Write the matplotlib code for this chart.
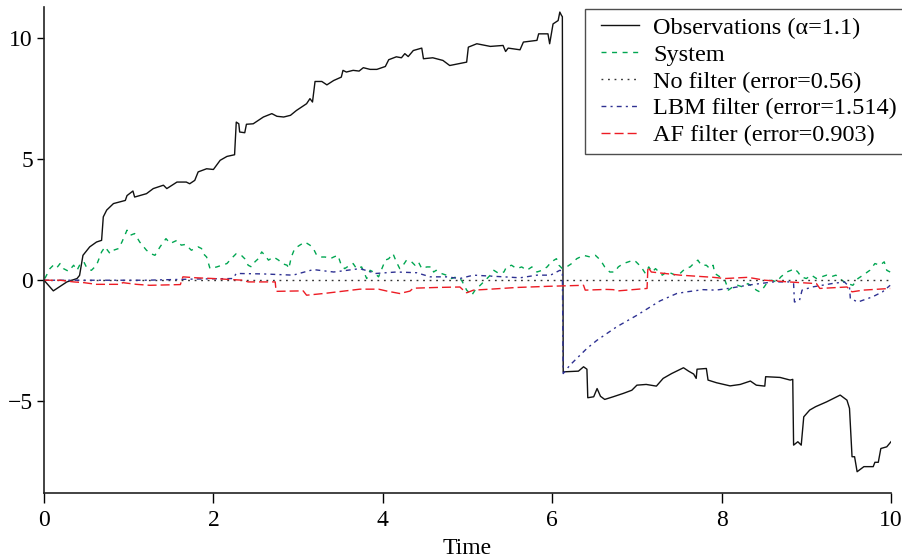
import numpy as np
import matplotlib
matplotlib.use("Agg")
import matplotlib.pyplot as plt
from matplotlib.lines import Line2D
from matplotlib.legend_handler import HandlerLine2D

# ---- data ----
obs_t = [0.00, 0.11, 0.27, 0.39, 0.42, 0.46, 0.54, 0.62, 0.68, 0.70, 0.74, 0.82,
         0.96, 0.98, 1.05, 1.07, 1.21, 1.29, 1.41, 1.45, 1.57, 1.68, 1.72, 1.78,
         1.82, 1.92, 2.00, 2.08, 2.16, 2.25, 2.27, 2.30, 2.31, 2.37, 2.39, 2.47,
         2.59, 2.69, 2.75, 2.83, 2.91, 2.98, 3.10, 3.14, 3.17, 3.20, 3.28, 3.34,
         3.42, 3.51, 3.53, 3.57, 3.65, 3.72, 3.77, 3.85, 3.93, 4.03, 4.07, 4.16,
         4.22, 4.26, 4.30, 4.36, 4.46, 4.48, 4.59, 4.71, 4.79, 4.99, 5.01, 5.11,
         5.27, 5.42, 5.45, 5.48, 5.62, 5.66, 5.82, 5.84, 5.95, 5.97, 6.01, 6.07,
         6.09, 6.11, 6.12, 6.13, 6.31, 6.37, 6.41, 6.42, 6.49, 6.53, 6.57, 6.62,
         6.72, 6.84, 6.94, 7.00, 7.11, 7.23, 7.31, 7.41, 7.55, 7.61, 7.67, 7.70,
         7.71, 7.82, 7.84, 7.94, 8.10, 8.22, 8.34, 8.41, 8.51, 8.52, 8.69, 8.81,
         8.84, 8.85, 8.90, 8.94, 8.97, 9.04, 9.11, 9.24, 9.32, 9.40, 9.48, 9.51,
         9.54, 9.57, 9.60, 9.68, 9.79, 9.81, 9.85, 9.88, 9.95, 10.00]
obs_y = [0.00, -0.44, -0.07, 0.07, 0.20, 1.03, 1.38, 1.58, 1.65, 2.62, 2.90, 3.17,
         3.30, 3.50, 3.69, 3.44, 3.58, 3.79, 3.93, 3.79, 4.06, 4.06, 3.99, 4.13,
         4.48, 4.61, 4.58, 4.96, 5.12, 5.19, 6.54, 6.47, 6.13, 6.10, 6.45, 6.47,
         6.75, 6.89, 6.78, 6.75, 6.82, 7.02, 7.30, 7.51, 7.37, 8.22, 8.22, 8.08,
         8.26, 8.40, 8.68, 8.61, 8.68, 8.65, 8.79, 8.72, 8.72, 8.84, 9.12, 9.24,
         9.20, 9.37, 9.25, 9.50, 9.60, 9.16, 9.20, 9.09, 8.88, 9.02, 9.64, 9.78,
         9.67, 9.71, 9.46, 9.60, 9.53, 9.85, 9.92, 10.19, 10.19, 9.78, 10.60, 10.74,
         11.09, 10.95, 10.90, -3.79, -3.76, -3.58, -3.68, -4.86, -4.82, -4.48, -4.80, -4.93,
         -4.82, -4.68, -4.55, -4.34, -4.31, -4.38, -4.06, -3.86, -3.62, -3.76, -3.88, -4.06,
         -3.68, -3.65, -4.13, -4.24, -4.37, -4.31, -4.17, -4.34, -4.38, -3.99, -4.02, -4.13,
         -4.10, -6.82, -6.68, -6.82, -5.65, -5.37, -5.23, -5.03, -4.89, -4.75, -4.96, -5.30,
         -7.30, -7.30, -7.92, -7.71, -7.71, -7.53, -7.53, -6.96, -6.89, -6.68]

sys_t = [0.01, 0.07, 0.11, 0.15, 0.19, 0.23, 0.29, 0.35, 0.39, 0.43, 0.47, 0.51,
         0.56, 0.62, 0.68, 0.72, 0.78, 0.82, 0.88, 0.92, 0.98, 1.02, 1.07, 1.13,
         1.21, 1.26, 1.31, 1.37, 1.44, 1.49, 1.57, 1.62, 1.67, 1.74, 1.78, 1.82,
         1.86, 1.88, 1.92, 1.96, 2.04, 2.10, 2.16, 2.21, 2.27, 2.33, 2.37, 2.41,
         2.45, 2.49, 2.53, 2.57, 2.61, 2.65, 2.71, 2.77, 2.81, 2.87, 2.89, 2.92,
         2.96, 3.02, 3.08, 3.14, 3.18, 3.22, 3.28, 3.32, 3.38, 3.42, 3.47, 3.51,
         3.55, 3.61, 3.65, 3.69, 3.75, 3.81, 3.85, 3.89, 3.95, 3.99, 4.03, 4.07,
         4.12, 4.16, 4.20, 4.24, 4.28, 4.34, 4.38, 4.42, 4.46, 4.52, 4.58, 4.60,
         4.63, 4.69, 4.75, 4.81, 4.87, 4.93, 4.95, 4.99, 5.05, 5.09, 5.15, 5.21,
         5.27, 5.31, 5.37, 5.43, 5.46, 5.52, 5.58, 5.64, 5.70, 5.76, 5.82, 5.88,
         5.94, 5.99, 6.05, 6.08, 6.12, 6.17, 6.23, 6.29, 6.37, 6.45, 6.51, 6.57,
         6.62, 6.68, 6.74, 6.78, 6.84, 6.90, 6.96, 6.99, 7.05, 7.10, 7.14, 7.18,
         7.22, 7.26, 7.30, 7.35, 7.41, 7.45, 7.51, 7.57, 7.63, 7.69, 7.72, 7.76,
         7.82, 7.86, 7.90, 7.92, 7.98, 8.04, 8.08, 8.13, 8.19, 8.25, 8.31, 8.37,
         8.41, 8.45, 8.49, 8.53, 8.59, 8.65, 8.70, 8.77, 8.82, 8.86, 8.90, 8.94,
         9.00, 9.06, 9.12, 9.18, 9.24, 9.29, 9.35, 9.39, 9.45, 9.49, 9.55, 9.61,
         9.67, 9.75, 9.81, 9.87, 9.92, 9.95, 9.99]
sys_y = [0.07, 0.48, 0.62, 0.51, 0.69, 0.48, 0.37, 0.62, 0.41, 0.69, 0.76, 0.48,
         0.41, 0.62, 1.17, 1.38, 1.10, 1.24, 1.31, 1.58, 2.07, 1.86, 1.93, 1.58,
         1.24, 1.10, 1.03, 1.38, 1.72, 1.52, 1.65, 1.45, 1.48, 1.24, 1.31, 1.38,
         1.31, 1.10, 0.96, 0.48, 0.55, 0.62, 0.69, 0.89, 1.10, 1.03, 0.89, 0.62,
         0.55, 0.76, 0.89, 1.17, 1.03, 0.83, 0.96, 0.83, 0.69, 0.62, 0.48, 0.96,
         1.31, 1.45, 1.58, 1.45, 1.31, 1.03, 0.96, 0.96, 0.89, 0.96, 1.03, 0.62,
         0.48, 0.62, 0.69, 0.48, 0.55, 0.07, 0.41, 0.34, 0.14, 0.48, 0.83, 0.89,
         1.10, 0.76, 0.48, 0.62, 0.83, 0.76, 0.62, 0.76, 0.48, 0.55, 0.55, 0.34,
         0.41, 0.28, 0.21, 0.07, 0.14, 0.00, -0.14, -0.41, -0.62, -0.41, -0.21, 0.00,
         0.21, 0.41, 0.28, 0.34, 0.55, 0.62, 0.48, 0.55, 0.41, 0.55, 0.34, 0.41,
         0.55, 0.76, 0.89, 0.62, 0.48, 0.55, 0.69, 0.89, 1.03, 0.96, 1.03, 0.83,
         0.55, 0.34, 0.34, 0.55, 0.69, 0.76, 0.83, 0.76, 0.55, 0.28, 0.55, 0.34,
         0.48, 0.34, 0.21, 0.34, 0.28, 0.21, 0.28, 0.48, 0.55, 0.76, 0.83, 0.62,
         0.62, 0.48, 0.62, 0.28, 0.14, 0.00, -0.41, -0.28, -0.21, -0.28, -0.14, -0.28,
         -0.41, -0.48, -0.34, -0.14, 0.00, -0.07, 0.14, 0.34, 0.41, 0.48, 0.34, 0.14,
         0.07, 0.21, 0.07, 0.14, 0.21, 0.14, 0.21, 0.07, -0.07, -0.14, -0.21, 0.07,
         0.21, 0.41, 0.69, 0.62, 0.76, 0.41, 0.34]

nofilter_t = [0.0, 10.0]
nofilter_y = [0.0, 0.0]

lbm_t = [0.00, 0.60, 1.20, 1.80, 2.23, 2.27, 2.59, 2.94, 3.18, 3.42, 3.49, 3.73,
         3.92, 4.16, 4.40, 4.56, 4.75, 4.91, 5.07, 5.27, 5.43, 5.62, 5.82, 5.98,
         6.09, 6.12, 6.13, 6.21, 6.41, 6.53, 6.76, 7.00, 7.27, 7.47, 7.59, 7.78,
         7.93, 8.08, 8.30, 8.45, 8.61, 8.80, 8.85, 8.86, 8.92, 8.95, 9.07, 9.30,
         9.45, 9.51, 9.52, 9.61, 9.78, 9.90, 9.99]
lbm_y = [0.00, 0.00, 0.00, 0.05, 0.07, 0.28, 0.26, 0.21, 0.44, 0.34, 0.37, 0.48,
         0.28, 0.34, 0.31, 0.14, 0.14, 0.07, 0.21, 0.17, 0.14, 0.10, 0.21, 0.21,
         0.41, 0.38, -3.86, -3.51, -2.82, -2.48, -1.93, -1.45, -0.86, -0.55, -0.48, -0.39,
         -0.41, -0.34, -0.21, -0.14, -0.07, -0.07, -0.14, -0.90, -0.83, -0.41, -0.28, -0.14,
         -0.07, -0.28, -0.76, -0.90, -0.69, -0.48, -0.21]

af_t = [0.00, 0.19, 0.35, 0.47, 0.62, 0.90, 0.93, 1.09, 1.25, 1.61, 1.64, 1.80,
        2.00, 2.35, 2.41, 2.67, 2.73, 2.74, 3.06, 3.10, 3.30, 3.73, 3.95, 4.05,
        4.20, 4.32, 4.36, 4.63, 4.91, 4.95, 4.99, 5.07, 5.27, 5.58, 5.97, 6.37,
        6.39, 6.64, 6.72, 6.78, 7.12, 7.13, 7.17, 7.51, 7.90, 8.04, 8.31, 8.51,
        8.79, 9.12, 9.16, 9.48, 9.54, 9.67, 9.99]
af_y = [0.00, 0.00, -0.07, -0.10, -0.17, -0.17, -0.10, -0.17, -0.21, -0.18, 0.14, 0.10,
        0.07, 0.00, -0.07, -0.07, -0.07, -0.46, -0.44, -0.62, -0.55, -0.37, -0.37, -0.45,
        -0.55, -0.45, -0.33, -0.30, -0.28, -0.41, -0.52, -0.41, -0.37, -0.30, -0.25, -0.21,
        -0.41, -0.38, -0.39, -0.44, -0.34, 0.55, 0.34, 0.21, 0.12, 0.07, 0.12, 0.00,
        -0.07, -0.14, -0.34, -0.28, -0.48, -0.41, -0.34]

labels = ["Observations (\u03b1=1.1)", "System", "No filter (error=0.56)",
          "LBM filter (error=1.514)", "AF filter (error=0.903)"]

plt.rcParams["font.family"] = ["Liberation Serif", "DejaVu Serif"]
plt.rcParams["font.size"] = 17
plt.rcParams["axes.unicode_minus"] = True

fig = plt.figure(figsize=(9.03, 5.6), dpi=100)
ax = fig.add_axes([44 / 903, 67 / 560, (891 - 44) / 903, (553 - 67) / 560])

ax.plot(obs_t, obs_y, color="#111111", lw=1.0, label=labels[0])
ax.plot(sys_t, sys_y, color="#00a651", lw=1.0, ls=(0, (3.6, 4.0)), label=labels[1])
ax.plot(nofilter_t, nofilter_y, color="#333333", lw=1.0, ls=(0, (1.3, 3.4)), label=labels[2])
ax.plot(lbm_t, lbm_y, color="#2e3192", lw=1.0, ls=(0, (3.5, 3.0, 1.5, 3.0)), label=labels[3])
ax.plot(af_t, af_y, color="#ed1c24", lw=1.0, ls=(0, (6.5, 2.9)), label=labels[4])

ax.set_xlim(0, 10)
ax.set_ylim(-8.8, 11.3)
ax.set_xticks([0, 2, 4, 6, 8, 10])
ax.set_yticks([-5, 0, 5, 10])
ax.spines["top"].set_visible(False)
ax.spines["right"].set_visible(False)
for s in ("left", "bottom"):
    ax.spines[s].set_linewidth(1.2)
    ax.spines[s].set_color("#222222")
ax.tick_params(axis="y", direction="out", length=5, width=1.0, pad=3)
ax.tick_params(axis="x", direction="out", length=7, width=1.0, pad=5)
ax.set_xlabel("Time", labelpad=5)

# handle shifted right a little inside the box, as in the reference
leg = ax.legend(loc="upper left", bbox_to_anchor=(585 / 903, 1 - 9 / 560),
                bbox_transform=fig.transFigure, borderaxespad=0, frameon=True,
                fancybox=False, handlelength=1.9, handletextpad=0.58,
                labelspacing=0.2, borderpad=0.32, fontsize=17.5,
                handler_map={Line2D: HandlerLine2D(xpad=0.33)})
leg.get_frame().set_edgecolor("#222222")
leg.get_frame().set_linewidth(1.0)

fig.savefig("out.png", dpi=100)
